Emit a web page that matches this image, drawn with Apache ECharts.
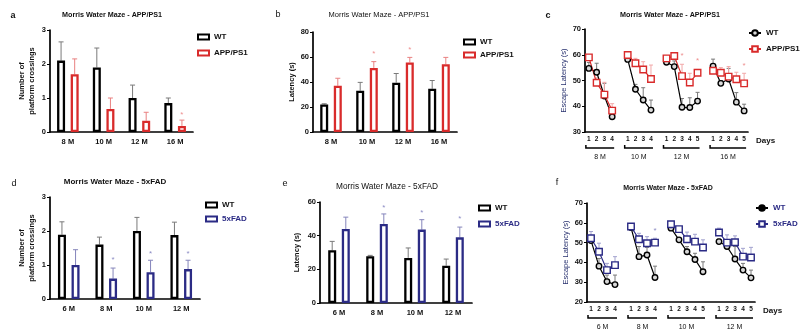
<!DOCTYPE html>
<html><head><meta charset="utf-8">
<script src="https://cdn.jsdelivr.net/npm/echarts@6/dist/echarts.min.js"></script>
<style>html,body{margin:0;padding:0;background:#fff}#c{width:800px;height:333px}</style>
</head><body><div id="c"></div>
<script>
// ---------- DATA ----------
const catsA = ['8 M','10 M','12 M','16 M'];
const aWT = [2.1, 1.9, 1.0, 0.85];
const aWTerr = [2.65, 2.47, 1.38, 1.0];
const aAPP = [1.7, 0.68, 0.33, 0.18];
const aAPPerr = [2.15, 1.0, 0.58, 0.35];
const aAPPstar = [null, null, null, 0.57];

const catsB = ['8 M','10 M','12 M','16 M'];
const bWT = [22, 33, 39.5, 34.6];
const bWTerr = [22.6, 39.7, 46.8, 41.2];
const bAPP = [37, 51.3, 55.7, 54.3];
const bAPPerr = [43, 56.3, 59.7, 59.7];
const bAPPstar = [null, 64, 67.5, null];

const catsD = ['6 M','8 M','10 M','12 M'];
const dWT = [1.89, 1.6, 2.0, 1.88];
const dWTerr = [2.27, 1.82, 2.4, 2.26];
const dFAD = [1.0, 0.6, 0.79, 0.88];
const dFADerr = [1.45, 0.91, 1.14, 1.14];
const dFADstar = [null, 1.2, 1.4, 1.4];

const catsE = ['6 M','8 M','10 M','12 M'];
const eWT = [31.3, 27.8, 26.8, 22.2];
const eWTerr = [36.6, 28.3, 32.7, 26.1];
const eFAD = [44, 46.9, 43.6, 39];
const eFADerr = [51, 52.9, 49.5, 45.1];
const eFADstar = [null, 58, 55, 51];

const cGroups = ['8 M','10 M','12 M','16 M'];
const cWT = [[54.7,53.2,44.0,35.9],[58.2,46.6,42.4,38.5],[57.1,55.4,39.6,39.5,42.0],[55.6,48.9,50.6,41.6,38.2]];
const cWTerr = [[57.0,56.7,48.9,36.5],[60.0,48.5,47.2,42.4],[58.2,57.6,43.0,43.3,45.4],[58.3,50.0,54.7,45.3,40.8]];
const cAPP = [[59.0,49.1,44.5,38.3],[59.9,56.7,54.3,50.6],[58.6,59.5,51.7,49.2,53.0],[53.8,53.0,51.5,50.5,48.9]];
const cAPPerr = [[60.0,51.0,49.3,41.0],[61.0,58.6,57.3,56.0],[59.5,60.5,56.3,52.8,54.3],[55.7,55.0,55.4,53.2,52.8]];
const cAPPstar = [[null,null,null,null],[null,null,null,null],[null,null,60.3,null,58.6],[null,null,null,null,56.4]];

const fGroups = ['6 M','8 M','10 M','12 M'];
const fWT = [[51.0,38.1,30.3,28.8],[57.6,42.9,43.7,32.4],[57.3,51.4,45.4,41.5,35.3],[50.5,48.0,41.7,36.1,32.2]];
const fWTerr = [[52.5,42.0,33.6,33.6],[58.5,48.0,47.6,38.1],[58.5,52.5,48.0,44.6,40.3],[51.8,49.0,48.0,39.5,36.1]];
const fFAD = [[52.2,45.4,36.1,38.6],[58.1,51.7,49.7,50.0],[59.3,56.8,51.7,50.5,47.5],[55.1,50.0,50.2,42.9,42.5]];
const fFADerr = [[55.6,49.7,39.5,42.9],[58.8,54.7,53.0,52.2],[60.0,58.0,55.3,54.2,51.4],[57.3,53.9,53.4,47.1,47.6]];
const fFADstar = [[null,null,null,null],[null,null,null,56.8],[null,null,null,null,null],[null,null,null,null,null]];

// ---------- STYLE ----------
const FONT = '"Liberation Sans", Arial, sans-serif';
const RED = '#d92b2b', NAVY = '#2b2b85';
const GREY_ERR = '#7a7a7a', RED_ERR = '#e98080', NAVY_ERR = '#8585bb';
const RED_STAR = '#ee9090', NAVY_STAR = '#8c8cc4';
const BAR_W = 8, BAR_GAP = 0.7;
const OFF = (BAR_W + BAR_W * BAR_GAP) / 2;

// ---------- HELPERS ----------
function buildCats(groups, arrs){ const c=[]; groups.forEach((g,i)=>{ if(i>0) c.push('gap'+i); arrs[i].forEach((_,d)=>c.push(g+'|'+(d+1))); }); return c; }
function flat(arrs){ const o=[]; arrs.forEach((a,i)=>{ if(i>0) o.push(null); a.forEach(v=>o.push(v)); }); return o; }
function bracketData(arrs){ let idx=0; const o=[]; arrs.forEach((a,i)=>{ if(i>0) idx++; o.push([idx, idx+a.length-1]); idx+=a.length; }); return o; }
function errItems(vals, errs, stars){ const o=[]; vals.forEach((v,k)=>{ if(v!=null) o.push([k, v, errs[k], (stars && stars[k]!=null) ? stars[k] : -1]); }); return o; }

function errRender(offset, color, starColor, cap){
  return function(params, api){
    const p = api.coord([api.value(0), api.value(1)]);
    const e = api.coord([api.value(0), api.value(2)]);
    const cx = p[0] + offset;
    const ch = [
      {type:'line', shape:{x1:cx, y1:p[1], x2:cx, y2:e[1]}, style:{stroke:color, lineWidth:1}},
      {type:'line', shape:{x1:cx-cap, y1:e[1], x2:cx+cap, y2:e[1]}, style:{stroke:color, lineWidth:1}}
    ];
    const s = api.value(3);
    if (s > 0){
      const sp = api.coord([api.value(0), s]);
      ch.push({type:'text', style:{text:'*', x:cx, y:sp[1]+2, align:'center', verticalAlign:'middle', fill:starColor, fontSize:8, fontFamily:FONT}});
    }
    return {type:'group', children:ch};
  };
}
function bracketRender(groups){
  return function(params, api){
    const cs = params.coordSys; const base = cs.y + cs.height;
    const x1 = api.coord([api.value(0), 0])[0] - 3;
    const x2 = api.coord([api.value(1), 0])[0] + 2;
    const y = base + 16;
    return {type:'group', children:[
      {type:'polyline', shape:{points:[[x1,y-3],[x1,y],[x2,y]]}, style:{stroke:'#000', lineWidth:1.5, fill:null}},
      {type:'text', style:{text:groups[params.dataIndex], x:(x1+x2)/2, y:y+9, align:'center', verticalAlign:'middle', fill:'#111', fontSize:7, fontFamily:FONT}}
    ]};
  };
}

function yAx(i,min,max,iv,name,gap,color,weight){
  return {type:'value', gridIndex:i, min, max, interval:iv, name, nameLocation:'middle', nameGap:gap, nameRotate:90,
    nameTextStyle:{fontSize:7.5, fontWeight:weight, color, lineHeight:10, fontFamily:FONT},
    axisLine:{show:true, lineStyle:{color:'#000', width:1.7}},
    axisTick:{show:true, length:3, lineStyle:{color:'#000', width:1}},
    axisLabel:{fontSize:7.5, fontWeight:'bold', color:'#111', margin:4, fontFamily:FONT},
    splitLine:{show:false}};
}
function xBar(i,cats){
  return {type:'category', gridIndex:i, data:cats,
    axisLine:{lineStyle:{color:'#000', width:1.7}},
    axisTick:{alignWithLabel:true, length:2, lineStyle:{color:'#000'}},
    axisLabel:{fontSize:7.5, fontWeight:'bold', color:'#111', margin:6, fontFamily:FONT}};
}
function xLine(i,cats){
  return {type:'category', gridIndex:i, data:cats, name:'Days', nameLocation:'end', nameGap:8,
    nameTextStyle:{fontSize:8, fontWeight:'bold', color:'#111', verticalAlign:'top', padding:[5,0,0,0], fontFamily:FONT},
    axisLine:{lineStyle:{color:'#000', width:1.7}},
    axisTick:{alignWithLabel:true, length:3, interval:(idx,v)=>String(v).indexOf('|')>=0, lineStyle:{color:'#000'}},
    axisLabel:{interval:0, fontSize:6.5, fontWeight:'bold', color:'#111', margin:4, fontFamily:FONT,
      formatter:v=> v.indexOf('|')>=0 ? v.split('|')[1] : ''}};
}
function bar(name,i,data,border){
  return {name, type:'bar', xAxisIndex:i, yAxisIndex:i, data, barWidth:BAR_W, barGap:(BAR_GAP*100)+'%',
    itemStyle:{color:'#fff', borderColor:border, borderWidth:2.3}, z:3, silent:true};
}
function barErr(i,vals,errs,stars,offset,color,starColor){
  return {type:'custom', xAxisIndex:i, yAxisIndex:i, data:errItems(vals,errs,stars), encode:{x:0, y:[1,2]},
    renderItem:errRender(offset,color,starColor,2.5), z:2, silent:true, clip:false};
}
function line(name,i,data,color,symbol,fill,size){
  return {name, type:'line', xAxisIndex:i, yAxisIndex:i, data, symbol, symbolSize:size, showSymbol:true, connectNulls:false,
    lineStyle:{color, width:1.2}, itemStyle:{color:fill, borderColor:color, borderWidth:1.4}, z:4, silent:true};
}
function lineErr(i,vals,errs,stars,color,starColor){
  return {type:'custom', xAxisIndex:i, yAxisIndex:i, data:errItems(flat(vals),flat(errs),flat(stars||vals.map(a=>a.map(()=>null)))),
    encode:{x:0, y:[1,2]}, renderItem:errRender(0,color,starColor,2), z:2, silent:true, clip:false};
}
function brackets(i,groups,arrs){
  return {type:'custom', xAxisIndex:i, yAxisIndex:i, data:bracketData(arrs), encode:{x:[0,1]},
    renderItem:bracketRender(groups), silent:true, clip:false};
}
function leg(left,top,gap,items,w,h){
  return {left, top, orient:'vertical', itemGap:gap, itemWidth:w, itemHeight:h, padding:0, selectedMode:false,
    data:items, formatter:n=>n.split('_')[0],
    textStyle:{fontSize:8, fontWeight:'bold', color:'#111', fontFamily:FONT}};
}
const rectIcon = (c)=>({icon:'rect', itemStyle:{color:'#fff', borderColor:c, borderWidth:2}});

const catsC = buildCats(cGroups, cWT);
const catsF = buildCats(fGroups, fWT);

const texts = [
  ['a',13,16,9,'bold'], ['Morris Water Maze - APP/PS1',112,15,7.2,'bold'],
  ['b',278,15,9,'normal'], ['Morris Water Maze - APP/PS1',379,15,7.5,'normal'],
  ['c',548,16,9,'bold'], ['Morris Water Maze - APP/PS1',670,15,7.2,'bold'],
  ['d',14,184,9,'normal'], ['Morris Water Maze - 5xFAD',115,182,8,'bold'],
  ['e',285,184,9,'normal'], ['Morris Water Maze - 5xFAD',387,187,8.3,'normal'],
  ['f',557,183,9,'normal'], ['Morris Water Maze - 5xFAD',668,188,7,'bold']
];

const option = {
  animation:false,
  textStyle:{fontFamily:FONT},
  graphic: texts.map(t=>({type:'text', x:t[1], y:t[2], style:{text:t[0], align:'center', verticalAlign:'middle', fontSize:t[3], fontWeight:t[4], fill:'#111', fontFamily:FONT}})),
  grid:[
    {left:50, top:30, width:143, height:102},
    {left:313, top:32, width:144, height:100},
    {left:585, top:29, width:163, height:103},
    {left:50, top:197, width:150, height:102},
    {left:320, top:202, width:152, height:101},
    {left:587, top:203, width:168, height:99}
  ],
  xAxis:[xBar(0,catsA), xBar(1,catsB), xLine(2,catsC), xBar(3,catsD), xBar(4,catsE), xLine(5,catsF)],
  yAxis:[
    yAx(0,0,3,1,'Number of\nplatform crossings',13,'#111','bold'),
    yAx(1,0,80,20,'Latency (s)',16,'#111','bold'),
    yAx(2,30,70,10,'Escape Latency (s)',13,'#27306e','normal'),
    yAx(3,0,3,1,'Number of\nplatform crossings',13,'#111','bold'),
    yAx(4,0,60,20,'Latency (s)',18,'#111','bold'),
    yAx(5,20,70,10,'Escape Latency (s)',14,'#27306e','normal')
  ],
  legend:[
    leg(197,33,8,[Object.assign({name:'WT_a'},rectIcon('#000')),Object.assign({name:'APP/PS1_a'},rectIcon(RED))],11,5),
    leg(463,38,5,[Object.assign({name:'WT_b'},rectIcon('#000')),Object.assign({name:'APP/PS1_b'},rectIcon(RED))],11,5),
    leg(748,29,8,[{name:'WT_c'},{name:'APP/PS1_c'}],12,7),
    leg(205,201,6,[Object.assign({name:'WT_d'},rectIcon('#000')),Object.assign({name:'5xFAD_d', textStyle:{color:NAVY}},rectIcon(NAVY))],11,5),
    leg(478,204,8,[Object.assign({name:'WT_e'},rectIcon('#000')),Object.assign({name:'5xFAD_e', textStyle:{color:NAVY}},rectIcon(NAVY))],11,5),
    leg(755,204,8,[{name:'WT_f', itemStyle:{color:'#000'}, textStyle:{color:NAVY}},{name:'5xFAD_f', textStyle:{color:NAVY}}],12,7)
  ],
  series:[
    bar('WT_a',0,aWT,'#000'), bar('APP/PS1_a',0,aAPP,RED),
    barErr(0,aWT,aWTerr,null,-OFF,GREY_ERR,GREY_ERR), barErr(0,aAPP,aAPPerr,aAPPstar,OFF,RED_ERR,RED_STAR),

    bar('WT_b',1,bWT,'#000'), bar('APP/PS1_b',1,bAPP,RED),
    barErr(1,bWT,bWTerr,null,-OFF,GREY_ERR,GREY_ERR), barErr(1,bAPP,bAPPerr,bAPPstar,OFF,RED_ERR,RED_STAR),

    line('WT_c',2,flat(cWT),'#000','circle','#d8d8d8',5.5), line('APP/PS1_c',2,flat(cAPP),RED,'rect','#fff',6.5),
    lineErr(2,cWT,cWTerr,null,GREY_ERR,GREY_ERR), lineErr(2,cAPP,cAPPerr,cAPPstar,'#f2a8a8',RED_STAR),
    brackets(2,cGroups,cWT),

    bar('WT_d',3,dWT,'#000'), bar('5xFAD_d',3,dFAD,NAVY),
    barErr(3,dWT,dWTerr,null,-OFF,GREY_ERR,GREY_ERR), barErr(3,dFAD,dFADerr,dFADstar,OFF,NAVY_ERR,NAVY_STAR),

    bar('WT_e',4,eWT,'#000'), bar('5xFAD_e',4,eFAD,NAVY),
    barErr(4,eWT,eWTerr,null,-OFF,GREY_ERR,GREY_ERR), barErr(4,eFAD,eFADerr,eFADstar,OFF,NAVY_ERR,NAVY_STAR),

    line('WT_f',5,flat(fWT),'#000','circle','#d8d8d8',5.5), line('5xFAD_f',5,flat(fFAD),NAVY,'rect','#fff',6.5),
    lineErr(5,fWT,fWTerr,null,GREY_ERR,GREY_ERR), lineErr(5,fFAD,fFADerr,fFADstar,'#a3a3cf',NAVY_STAR),
    brackets(5,fGroups,fWT)
  ]
};
const chart = echarts.init(document.getElementById('c'), null, {renderer:'canvas'});
chart.setOption(option);
</script>
</body></html>
